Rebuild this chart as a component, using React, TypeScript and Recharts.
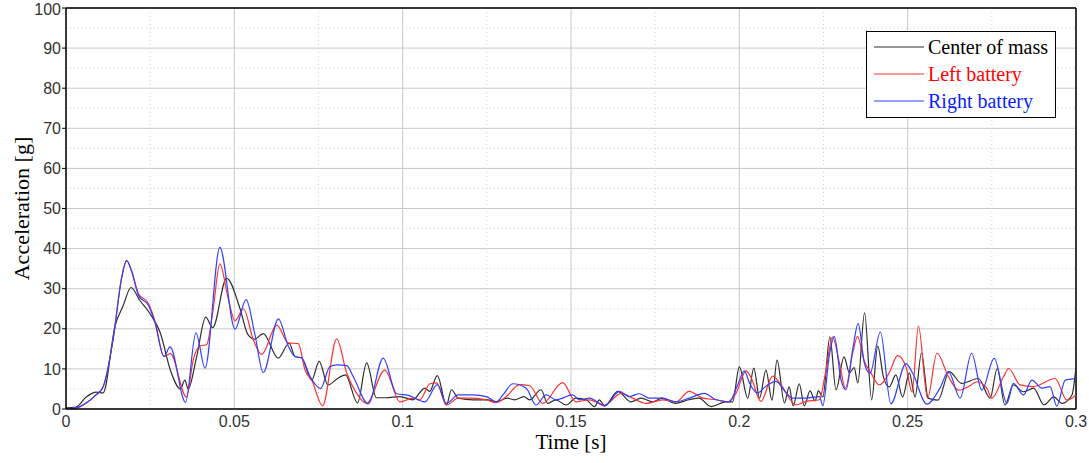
import React from "react";
import {
  LineChart,
  Line,
  XAxis,
  YAxis,
  CartesianGrid,
  ReferenceLine,
  Label,
} from "recharts";

// time [s] / acceleration [g]
const comTime = [
  0, 0.003, 0.006, 0.009, 0.011, 0.0146, 0.017, 0.0193, 0.022, 0.025, 0.028, 0.031, 0.034, 0.0353,
  0.0363, 0.0388, 0.0415, 0.0436, 0.0477, 0.0517, 0.054, 0.056, 0.0586, 0.063, 0.0663, 0.068, 0.07,
  0.073, 0.0752, 0.0778, 0.0805, 0.083, 0.0866, 0.0893, 0.0922, 0.095, 0.0992, 0.103, 0.1066, 0.108,
  0.1103, 0.113, 0.1145, 0.1165, 0.121, 0.1253, 0.1278, 0.131, 0.1332, 0.136, 0.1377, 0.1411, 0.1431,
  0.1455, 0.1485, 0.1515, 0.1545, 0.157, 0.1584, 0.16, 0.1639, 0.1678, 0.1708, 0.1743, 0.177, 0.181,
  0.185, 0.188, 0.1916, 0.196, 0.198, 0.2, 0.2025, 0.2043, 0.206, 0.2079, 0.2097, 0.2112, 0.2134,
  0.2148, 0.216, 0.2178, 0.2193, 0.221, 0.2225, 0.2235, 0.2248, 0.2269, 0.2287, 0.2311, 0.2327,
  0.2341, 0.2352, 0.2372, 0.2393, 0.2411, 0.2428, 0.2445, 0.2465, 0.2485, 0.2505, 0.2522, 0.2541,
  0.2561, 0.259, 0.2624, 0.266, 0.271, 0.2745, 0.2766, 0.2789, 0.2814, 0.2844, 0.2874, 0.2905,
  0.2934, 0.2958, 0.2988, 0.3,
];
const comAccel = [
  0.3, 0.5, 3, 4.2, 4, 20.8, 25.8, 30.3, 27, 23.7, 19, 9.7, 5, 7.2, 5, 13, 22.9, 20.3, 32.6, 25,
  18.6, 17.4, 18.8, 12.7, 16.4, 13.1, 12.7, 7.2, 11.9, 6, 7.5, 8.5, 1.5, 11.5, 2.8, 2.8, 3.1, 2.3,
  5.2, 4.4, 8.3, 1, 4.8, 2.7, 2.3, 2.3, 1.8, 2.7, 2.3, 3.1, 2.3, 4.8, 1.4, 2.3, 1, 2.7, 2.3, 0.6,
  2.3, 0.8, 4.4, 1.8, 2.7, 1.8, 2.7, 1.4, 2.3, 2.7, 0.6, 1.8, 1.8, 10.5, 2.7, 10.2, 2.7, 9.7, 2.2,
  12.2, 1.5, 5.5, 0.8, 6.3, 0.8, 4.5, 2, 4.5, 3, 18, 4.8, 13, 9, 10.3, 6.5, 24, 2.3, 15.7, 8, 5.5,
  8.5, 3, 9, 3, 13.9, 2.7, 2.2, 9.3, 6.4, 7.6, 2.7, 10.1, 1, 6, 4.3, 5.2, 1, 3, 1.4, 3.5, 10.5,
];

const leftTime = [
  0, 0.003, 0.006, 0.009, 0.011, 0.014, 0.0165, 0.018, 0.0195, 0.0215, 0.0245, 0.0264, 0.0291,
  0.031, 0.0358, 0.0378, 0.0398, 0.0418, 0.0436, 0.0457, 0.0482, 0.0502, 0.0527, 0.0556, 0.0581,
  0.0626, 0.066, 0.069, 0.071, 0.073, 0.0762, 0.0804, 0.0834, 0.0861, 0.0893, 0.0947, 0.0992,
  0.1032, 0.1051, 0.1081, 0.1101, 0.113, 0.1165, 0.1209, 0.1248, 0.1278, 0.1308, 0.1347, 0.1377,
  0.1416, 0.1475, 0.1515, 0.1555, 0.16, 0.1649, 0.1683, 0.1723, 0.1772, 0.1812, 0.1851, 0.1891,
  0.1931, 0.1965, 0.199, 0.202, 0.2035, 0.2064, 0.2099, 0.2124, 0.2168, 0.2198, 0.2238, 0.2255,
  0.2277, 0.2297, 0.2315, 0.2337, 0.2351, 0.2371, 0.2391, 0.2416, 0.2445, 0.247, 0.2495, 0.2513,
  0.2532, 0.2559, 0.2587, 0.2621, 0.2651, 0.2681, 0.2705, 0.2735, 0.275, 0.2785, 0.28, 0.2834,
  0.2874, 0.2938, 0.2973, 0.3,
];
const leftAccel = [
  0, 0.2, 1.5, 3.6, 5.5, 17.4, 32.6, 37, 34.5, 28.8, 26.3, 22, 13.1, 13.8, 3, 12.3, 15.7, 16.1,
  24.2, 36.2, 27.5, 22, 25, 17.4, 13.6, 20.9, 16.5, 16.3, 9.7, 7.2, 0.8, 17.5, 8.9, 4.2, 1.4, 9.7,
  1.8, 2.7, 2.3, 6.3, 6.5, 1, 2.7, 2.7, 2.3, 1.6, 3.1, 6.1, 5.8, 1.4, 6.6, 1.8, 2.3, 1, 3.9, 2.7,
  1.4, 2.3, 1.8, 4.4, 2.7, 2.3, 1.8, 3.9, 9.5, 7.8, 1.9, 8.2, 6, 1, 1.9, 2.3, 8.6, 17.9, 11.6, 5.2,
  14.1, 18.1, 12, 9, 6, 9, 13.3, 10.5, 4.2, 20.7, 2.7, 13.9, 8.1, 4.7, 5.6, 6.8, 5.2, 2.7, 8.1,
  10.1, 6, 5.6, 7.6, 2.2, 3.5,
];

const rightTime = [
  0, 0.003, 0.006, 0.009, 0.011, 0.014, 0.0165, 0.018, 0.0195, 0.0215, 0.0245, 0.0264, 0.0291,
  0.0309, 0.0355, 0.0386, 0.0413, 0.0457, 0.0502, 0.0535, 0.0561, 0.0586, 0.0631, 0.066, 0.068,
  0.07, 0.0725, 0.0756, 0.0784, 0.0804, 0.0834, 0.0853, 0.0898, 0.0942, 0.0982, 0.1017, 0.1066,
  0.1103, 0.113, 0.1165, 0.1209, 0.1248, 0.1278, 0.1298, 0.1327, 0.1367, 0.1396, 0.1426, 0.1456,
  0.1505, 0.1525, 0.1555, 0.16, 0.1644, 0.1673, 0.1703, 0.1733, 0.1772, 0.1812, 0.1851, 0.1896,
  0.1931, 0.197, 0.1995, 0.2015, 0.203, 0.2054, 0.2079, 0.2109, 0.2139, 0.2158, 0.2198, 0.2238,
  0.2248, 0.2267, 0.2282, 0.2302, 0.2317, 0.2337, 0.2353, 0.2371, 0.2388, 0.2419, 0.245, 0.2495,
  0.2515, 0.2557, 0.2596, 0.2621, 0.2656, 0.269, 0.272, 0.2757, 0.2795, 0.2814, 0.2844, 0.2869,
  0.2899, 0.2923, 0.2943, 0.2968, 0.3,
];
const rightAccel = [
  0, 0.3, 1.5, 3.6, 5.5, 17.4, 32.6, 37, 34.3, 28.4, 25.8, 21.6, 13.1, 15.5, 1.7, 19, 10.2, 40.3,
  19.9, 27.3, 18.6, 9.1, 22.5, 15.7, 13.1, 12.7, 8.1, 5.1, 10.6, 11, 10.8, 8.1, 1.3, 12.7, 3.8,
  3.4, 1.8, 6.1, 1.4, 3.5, 3.5, 3.1, 1.8, 3.5, 6.3, 5.2, 1, 3.5, 2.3, 3.5, 2.3, 2.7, 0.8, 4.4, 3.1,
  3.8, 2.7, 2.7, 1.8, 2.7, 3.9, 2.3, 1.8, 6, 9.5, 6.5, 4, 5.7, 6.9, 4, 2.7, 2.7, 3.1, 0.8, 13.2,
  18.1, 7.3, 4.8, 15, 21.3, 11.6, 8.9, 19.2, 1.3, 11.3, 8.9, 1.2, 5.2, 9.3, 2.7, 13.9, 4.7, 12.6,
  1.4, 6.4, 3.5, 7.2, 5.2, 5.6, 0.7, 7.2, 7.6,
];

const xTicks = [0, 0.05, 0.1, 0.15, 0.2, 0.25, 0.3];
const yTicks = [0, 10, 20, 30, 40, 50, 60, 70, 80, 90, 100];
const xMinor = [0.025, 0.075, 0.125, 0.175, 0.225, 0.275];
const yMinor = [5, 15, 25, 35, 45, 55, 65, 75, 85, 95];

const series = [
  { name: "Center of mass", stroke: "#2e2e2e", text: "#000000" },
  { name: "Left battery", stroke: "#ff3030", text: "#ff0000" },
  { name: "Right battery", stroke: "#3040ff", text: "#0a1eff" },
];

const rows = (t: number[], a: number[]) => t.map((x, i) => ({ t: x, a: a[i] }));

const comData = rows(comTime, comAccel);
const leftData = rows(leftTime, leftAccel);
const rightData = rows(rightTime, rightAccel);

const serif = "'Liberation Serif', 'Times New Roman', serif";
const sans = "'Liberation Sans', Arial, sans-serif";

function LegendBox() {
  return (
    <div
      style={{
        position: "absolute",
        left: 866,
        top: 31,
        width: 188,
        height: 85,
        border: "1px solid #000",
        background: "#fff",
      }}
    >
      <svg width={188} height={85} style={{ display: "block" }}>
        {series.map((s, i) => (
          <g key={s.name}>
            <line x1={7} x2={57} y1={15 + i * 27} y2={15 + i * 27} stroke={s.stroke} strokeWidth={1.2} />
            <text
              x={61}
              y={15 + i * 27}
              dy="0.35em"
              fill={s.text}
              style={{ fontFamily: serif, fontSize: 20 }}
            >
              {s.name}
            </text>
          </g>
        ))}
      </svg>
    </div>
  );
}

export default function App() {
  return (
    <div style={{ position: "absolute", left: 0, top: 0, width: 1089, height: 463, background: "#fff" }}>
      <LineChart width={1089} height={463} margin={{ top: 8, right: 13, bottom: 0, left: 0 }}>
        <CartesianGrid stroke="#c8c8c8" strokeWidth={1} />
        {xMinor.map((v) => (
          <ReferenceLine key={"x" + v} x={v} stroke="#cfcfcf" strokeDasharray="1 3" />
        ))}
        {yMinor.map((v) => (
          <ReferenceLine key={"y" + v} y={v} stroke="#cfcfcf" strokeDasharray="1 3" />
        ))}
        <ReferenceLine y={100} stroke="#000" strokeWidth={1.5} />
        <ReferenceLine x={0.3} stroke="#000" strokeWidth={1.5} />
        <XAxis
          type="number"
          dataKey="t"
          domain={[0, 0.3]}
          ticks={xTicks}
          allowDataOverflow
          height={54}
          axisLine={{ stroke: "#000", strokeWidth: 1.5 }}
          tickLine={false}
          tickSize={4}
          tickMargin={3}
          tick={{ fill: "#333", fontSize: 16, fontFamily: sans }}
        >
          <Label
            value="Time [s]"
            position="insideBottom"
            offset={14}
            style={{ fontFamily: serif, fontSize: 21, fill: "#000" }}
          />
        </XAxis>
        <YAxis
          type="number"
          domain={[0, 100]}
          ticks={yTicks}
          allowDataOverflow
          width={66}
          axisLine={{ stroke: "#000", strokeWidth: 1.5 }}
          tickLine={{ stroke: "#000" }}
          tickSize={4}
          tickMargin={1}
          tick={{ fill: "#333", fontSize: 16, fontFamily: sans }}
        >
          <Label
            value="Acceleration [g]"
            angle={-90}
            position="insideLeft"
            offset={21}
            style={{ fontFamily: serif, fontSize: 22, fill: "#000", textAnchor: "middle" }}
          />
        </YAxis>
        <Line
          data={comData}
          dataKey="a"
          type="monotone"
          stroke={series[0].stroke}
          strokeWidth={1.2}
          dot={false}
          isAnimationActive={false}
        />
        <Line
          data={leftData}
          dataKey="a"
          type="monotone"
          stroke={series[1].stroke}
          strokeWidth={1.2}
          dot={false}
          isAnimationActive={false}
        />
        <Line
          data={rightData}
          dataKey="a"
          type="monotone"
          stroke={series[2].stroke}
          strokeWidth={1.2}
          dot={false}
          isAnimationActive={false}
        />
      </LineChart>
      <LegendBox />
    </div>
  );
}
